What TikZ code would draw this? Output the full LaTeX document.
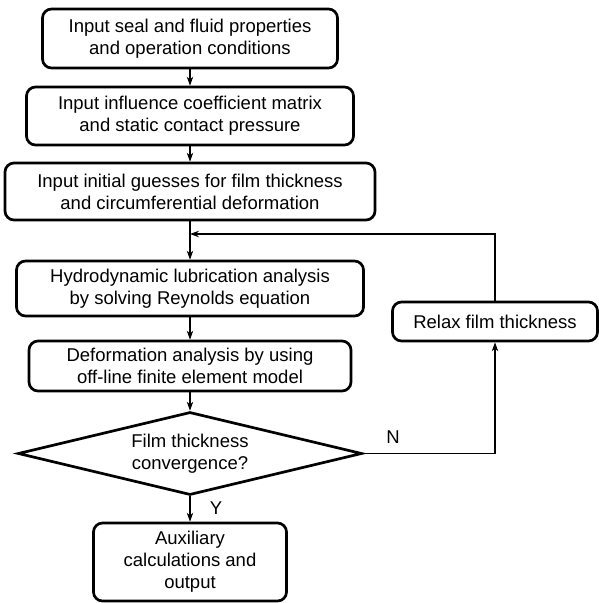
\documentclass[tikz,border=0pt]{standalone}
\usepackage{fontspec}
\setmainfont{Liberation Sans}
\usetikzlibrary{shapes.geometric,arrows.meta}
\begin{document}
\begin{tikzpicture}[x=1pt,y=1pt,
  txt/.style={font=\fontsize{18.5}{22}\selectfont},
  box/.style={txt, draw, line width=2.7pt, rounded corners=9pt, align=center, inner sep=0pt},
  dia/.style={txt, draw, diamond, aspect=4.14, line width=2.7pt, align=center, inner sep=0pt, minimum width=344pt, minimum height=83pt},
  conn/.style={line width=1.2pt, -{Stealth[length=9pt,width=6.5pt]}},
  lbl/.style={txt}]
\useasboundingbox (0,0) rectangle (599,-603);
\node[box, minimum width=295pt, minimum height=59pt] (b1) at (190,-38.5) {Input seal and fluid properties\\and operation conditions};
\node[box, minimum width=327pt, minimum height=58pt] (b2) at (190,-116) {Input influence coefficient matrix\\and static contact pressure};
\node[box, minimum width=370pt, minimum height=57pt] (b3) at (190,-191.5) {Input initial guesses for film thickness\\and circumferential deformation};
\node[box, minimum width=347pt, minimum height=55pt] (b4) at (190,-288.5) {Hydrodynamic lubrication analysis\\by solving Reynolds equation};
\node[box, minimum width=322pt, minimum height=50pt] (b5) at (190,-366) {Deformation analysis by using\\off-line finite element model};
\node[dia] (d) at (190,-453.5) {Film thickness\\convergence?};
\node[box, minimum width=193pt, minimum height=78pt] (b6) at (190,-562) {Auxiliary\\calculations and\\output};
\node[box, minimum width=205pt, minimum height=39pt] (r) at (495,-321.5) {Relax film thickness};
\coordinate (j) at (190,-234);
\draw[conn] (b1) -- (b2);
\draw[conn] (b2) -- (b3);
\draw[conn] (b3) -- (b4);
\draw[conn] (b4) -- (b5);
\draw[conn] (b5) -- (d);
\draw[conn] (d) -- (b6);
\draw[conn] (d.east) -| (r.south);
\draw[conn] (r.north) |- (j);
\node[lbl] (n) at (393,-437) {N};
\node[lbl] (y) at (216,-508) {Y};
\end{tikzpicture}
\end{document}
